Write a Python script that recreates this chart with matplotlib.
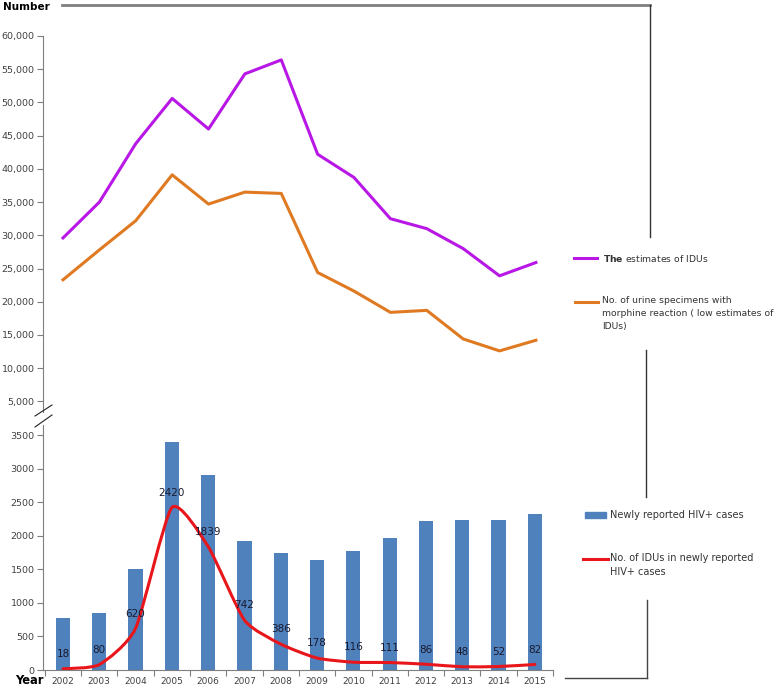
"""IDU estimates and HIV+ cases, 2002-2015."""

import matplotlib
matplotlib.use('Agg')
import matplotlib.pyplot as plt
import numpy as np
from matplotlib.lines import Line2D
from matplotlib.path import Path
from matplotlib.patches import PathPatch, Rectangle
from matplotlib.ticker import FuncFormatter

# data
years = ['2002', '2003', '2004', '2005', '2006', '2007', '2008',
         '2009', '2010', '2011', '2012', '2013', '2014', '2015']
idu_estimates = [29600, 35000, 43800, 50600, 46000, 54300, 56400,
                 42200, 38700, 32500, 31000, 28000, 23900, 25900]
urine_positive = [23300, 27800, 32200, 39100, 34700, 36500, 36300,
                  24400, 21600, 18400, 18700, 14400, 12600, 14200]
hiv_cases = [770, 850, 1510, 3390, 2910, 1920, 1740,
             1640, 1780, 1960, 2220, 2240, 2240, 2320]
idu_hiv = [18, 80, 620, 2420, 1839, 742, 386,
           178, 116, 111, 86, 48, 52, 82]
top_ticks = list(range(5000, 60001, 5000))
bottom_ticks = list(range(0, 3501, 500))

# style
purple = '#B817E6'
orange = '#E07A22'
blue = '#4F81BD'
red = '#E8161B'
gray = '#7F7F7F'
txt = '#404040'
legtxt = '#333333'

W, H = 779, 688
fig = plt.figure(figsize=(W / 100, H / 100), dpi=100)


def fx(px):
    return px / W


def fy(py):
    return 1 - py / H


x = np.arange(len(years))
xlim = (-0.55, 13.47)

# top panel
ax1 = fig.add_axes([fx(43), fy(412), fx(553 - 43), fy(36) - fy(412)])
ax1.plot(x, idu_estimates, color=purple, lw=2.2)
ax1.plot(x, urine_positive, color=orange, lw=2.2)
ax1.set_xlim(*xlim)
ax1.set_ylim(3400, 60000)
ax1.set_yticks(top_ticks)
ax1.yaxis.set_major_formatter(FuncFormatter(lambda v, p: f'{int(v):,}'))
ax1.set_xticks([])
for s in ['top', 'right', 'bottom']:
    ax1.spines[s].set_visible(False)
ax1.spines['left'].set_color(gray)
ax1.tick_params(axis='y', colors=gray, labelcolor=txt, labelsize=6.8,
                length=4, width=0.8, pad=2)

# bottom panel
ax2 = fig.add_axes([fx(43), fy(670), fx(553 - 43), fy(425) - fy(670)])
ax2.bar(x, hiv_cases, width=0.39, color=blue)

# smoothed line (excel-like), bezier through the data points
pts = np.column_stack([x, idu_hiv]).astype(float)
verts = [pts[0]]
codes = [Path.MOVETO]
n = len(pts)
k = 0.1
for i in range(n - 1):
    p0 = pts[max(i - 1, 0)]
    p1 = pts[i]
    p2 = pts[i + 1]
    p3 = pts[min(i + 2, n - 1)]
    verts += [p1 + (p2 - p0) * k, p2 - (p3 - p1) * k, p2]
    codes += [Path.CURVE4] * 3
ax2.add_patch(PathPatch(Path(verts, codes), fill=False, edgecolor=red,
                        lw=2.2, capstyle='round', joinstyle='round'))
for xi, v in zip(x, idu_hiv):
    ax2.annotate(str(v), (xi, v), xytext=(0, 7), textcoords='offset points',
                 ha='center', va='bottom', fontsize=7.5, color='#1A1A2E')

ax2.set_xlim(*xlim)
ax2.set_ylim(0, 3650)
ax2.set_yticks(bottom_ticks)
ax2.set_xticks(x)
ax2.set_xticklabels(years)
ax2.set_xticks(np.arange(-0.5, 13.6, 1), minor=True)
ax2.tick_params(axis='x', which='major', length=0, labelsize=6.5,
                labelcolor=txt, pad=5)
ax2.tick_params(axis='x', which='minor', length=4, color=gray, width=0.8)
ax2.tick_params(axis='y', colors=gray, labelcolor=txt, labelsize=6.8,
                length=4, width=0.8, pad=2)
for s in ['top', 'right']:
    ax2.spines[s].set_visible(False)
for s in ['left', 'bottom']:
    ax2.spines[s].set_color(gray)

# axis titles
fig.text(fx(3), fy(7), 'Number', fontsize=7.5, fontweight='bold', va='center')
fig.text(fx(15), fy(681), 'Year', fontsize=8.3, fontweight='bold', va='center')

# legend entries (handle aligned with the first text line, as in the source)
def key_line(x0, x1, y, color):
    fig.add_artist(Line2D([fx(x0), fx(x1)], [fy(y), fy(y)],
                          transform=fig.transFigure, color=color, lw=2.2))


key_line(574, 597, 258, purple)
fig.text(fx(603), fy(258), r'$\mathbf{The}$ estimates of IDUs', fontsize=6.7,
         color=legtxt, va='center')
key_line(575, 598, 302, orange)
fig.text(fx(602), fy(296),
         'No. of urine specimens with\nmorphine reaction ( low estimates of\nIDUs)',
         fontsize=6.7, color=legtxt, va='top', linespacing=1.6)

fig.add_artist(Rectangle((fx(585), fy(518)), fx(21), fy(512) - fy(518),
                         transform=fig.transFigure, color=blue))
fig.text(fx(610), fy(515), 'Newly reported HIV+ cases', fontsize=7,
         color=legtxt, va='center')
key_line(583, 608, 559, red)
fig.text(fx(610), fy(553), 'No. of IDUs in newly reported\nHIV+ cases',
         fontsize=7, color=legtxt, va='top', linespacing=1.55)

# axis break marks and frame pieces
deco = [
    ([35, 52], [416, 405], '#222222', 0.8),
    ([35, 52], [427, 415], '#222222', 0.8),
    ([62, 650], [5, 5], gray, 2),
    ([650, 650], [5, 237], '#333333', 1),
    ([646, 646], [350, 497], '#333333', 1),
    ([647, 647], [600, 678], '#444444', 1),
    ([565, 647], [678, 678], '#444444', 1),
]
for xs, ys, c, lw in deco:
    fig.add_artist(Line2D([fx(v) for v in xs], [fy(v) for v in ys],
                          transform=fig.transFigure, color=c, lw=lw))

plt.savefig('out.png', dpi=100)
